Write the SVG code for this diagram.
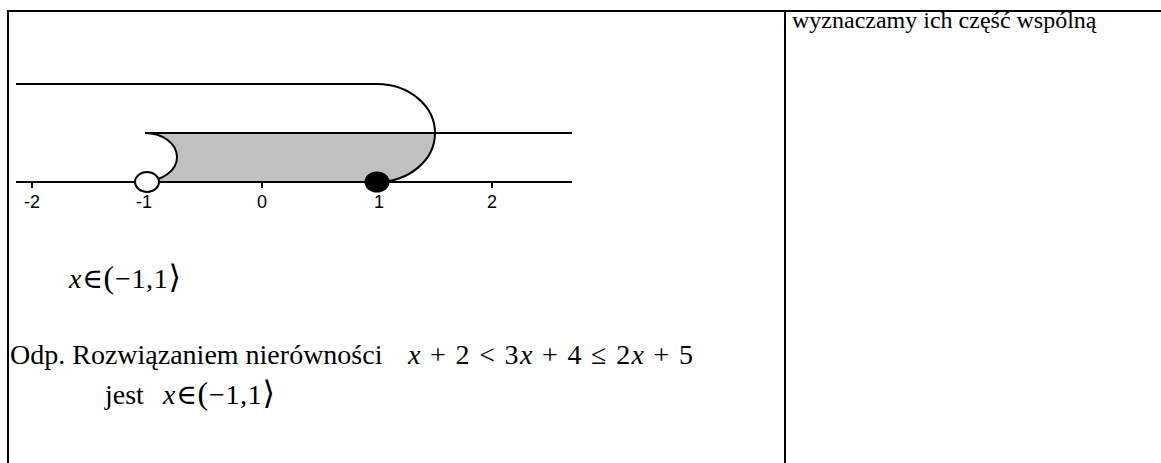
<svg xmlns="http://www.w3.org/2000/svg" width="1161" height="463" viewBox="0 0 1161 463">
<style>
.ln{stroke:#000;stroke-width:2;fill:none}
.tk{font-family:"Liberation Sans",Arial,sans-serif;font-size:18px;text-anchor:middle;fill:#000}
.tx{font-family:"Liberation Serif","Times New Roman","DejaVu Serif",serif;fill:#000}
.it{font-style:italic}
</style>
<rect width="1161" height="463" fill="#fff"/>
<g id="table">
<line class="ln" x1="7" y1="11" x2="1161" y2="11"/>
<line class="ln" x1="8" y1="10" x2="8" y2="463"/>
<line class="ln" x1="785" y1="10" x2="785" y2="463"/>
</g>
<g id="region">
<path d="M145,133 L435,133 C435,160 409,182 377,182 L145,181 A32,24 0 0 0 145,133 Z" fill="#c0c0c0" stroke="none"/>
</g>
<g id="connectors">
<line class="ln" x1="16" y1="182" x2="572" y2="182"/>
<line class="ln" x1="32" y1="182" x2="32" y2="188"/>
<line class="ln" x1="147" y1="182" x2="147" y2="188"/>
<line class="ln" x1="262" y1="182" x2="262" y2="188"/>
<line class="ln" x1="377" y1="182" x2="377" y2="188"/>
<line class="ln" x1="492" y1="182" x2="492" y2="188"/>
<line class="ln" x1="16" y1="84" x2="377" y2="84"/>
<path class="ln" d="M377,84 C409,84 435,106 435,133 C435,160 409,182 377,182"/>
<line class="ln" x1="145" y1="133" x2="572" y2="133"/>
<path class="ln" d="M145,133 A32,24 0 0 1 145,181"/>
</g>
<g id="points">
<ellipse cx="147" cy="182" rx="12" ry="10" fill="#fff" stroke="#000" stroke-width="2"/>
<ellipse cx="377" cy="182" rx="12.5" ry="10.5" fill="#000"/>
</g>
<g id="labels">
<text class="tk" x="32" y="208">-2</text>
<text class="tk" x="144" y="208">-1</text>
<text class="tk" x="262" y="208">0</text>
<text class="tk" x="379" y="208">1</text>
<text class="tk" x="492" y="208">2</text>
</g>
<g id="answer">
<text class="tx" x="69" y="288" font-size="28" textLength="112" lengthAdjust="spacing"><tspan class="it">x</tspan>∈<tspan font-size="32">(</tspan>−1,1<tspan font-size="32">⟩</tspan></text>
<text class="tx" x="10" y="364" font-size="28">Odp. Rozwiązaniem nierówności</text>
<text class="tx" x="408" y="364" font-size="28" textLength="285" lengthAdjust="spacing"><tspan class="it">x</tspan> + 2 &lt; 3<tspan class="it">x</tspan> + 4 ≤ 2<tspan class="it">x</tspan> + 5</text>
<text class="tx" x="105" y="404" font-size="28">jest</text>
<text class="tx" x="163" y="404" font-size="28" textLength="112" lengthAdjust="spacing"><tspan class="it">x</tspan>∈<tspan font-size="32">(</tspan>−1,1<tspan font-size="32">⟩</tspan></text>
</g>
<g id="note">
<text class="tx" x="792" y="28" font-size="24">wyznaczamy ich część wspólną</text>
</g>
</svg>
